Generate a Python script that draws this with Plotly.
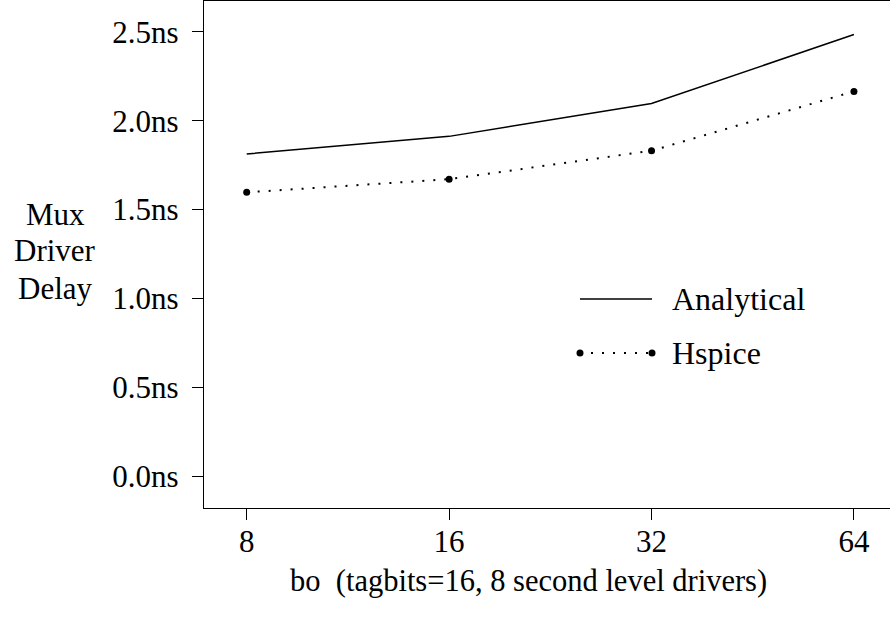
import plotly.graph_objects as go

# tag bits / second level drivers sweep
bo = [8, 16, 32, 64]
analytical = [1.813, 1.912, 2.097, 2.485]
hspice = [1.597, 1.671, 1.831, 2.165]

ytick_vals = [0.0, 0.5, 1.0, 1.5, 2.0, 2.5]
ytick_text = ["0.0ns", "0.5ns", "1.0ns", "1.5ns", "2.0ns", "2.5ns"]
xtick_text = ["8", "16", "32", "64"]
ytitle_lines = ["Mux", "Driver", "Delay"]

FONT = "Liberation Serif"
FS = 32
L, B, W, H = 204, 117, 890, 625
pw, ph = W - L, H - B - 1

fig = go.Figure()

fig.add_trace(go.Scatter(x=bo, y=analytical, mode="lines", name="Analytical",
                         line=dict(color="black", width=1.5)))
fig.add_trace(go.Scatter(x=bo, y=hspice, mode="lines+markers", name="Hspice",
                         line=dict(color="black", width=2, dash="2px,9px"),
                         marker=dict(color="black", size=7)))

# pixel -> paper helpers
def px(x):
    return (x - L) / pw

def py(y):
    return (H - B - y) / ph

# legend drawn by hand (line sample with end markers)
leg_x0, leg_x1 = px(580), px(652)
for yy, label, dotted in [(299, "Analytical", False), (353, "Hspice", True)]:
    fig.add_shape(type="line", xref="paper", yref="paper",
                  x0=leg_x0, x1=leg_x1, y0=py(yy), y1=py(yy),
                  line=dict(color="black", width=2 if dotted else 1.5,
                            dash="2px,9px" if dotted else "solid"))
    if dotted:
        for xx in (leg_x0, leg_x1):
            fig.add_shape(type="circle", xref="paper", yref="paper",
                          xsizemode="pixel", ysizemode="pixel",
                          xanchor=xx, yanchor=py(yy),
                          x0=-3.5, x1=3.5, y0=-3.5, y1=3.5,
                          fillcolor="black", line=dict(width=0))
    fig.add_annotation(text=label, xref="paper", yref="paper",
                       x=px(670), y=py(yy), xanchor="left", yanchor="middle",
                       showarrow=False, font=dict(size=FS, family=FONT, color="black"))

# y title, one line per annotation for tight spacing
for i, t in enumerate(ytitle_lines):
    fig.add_annotation(text=t, xref="paper", yref="paper",
                       x=px(55), y=py(214 + 37 * i), xanchor="center", yanchor="middle",
                       showarrow=False, font=dict(size=31, family=FONT, color="black"))

fig.add_annotation(text="bo\u00a0\u00a0(tagbits=16, 8 second level drivers)",
                   xref="paper", yref="paper", x=px(528), y=py(581),
                   xanchor="center", yanchor="middle", showarrow=False,
                   font=dict(size=30.5, family=FONT, color="black"))

fig.update_xaxes(type="log", range=[0.8396, 1.8598],
                 tickvals=bo, ticktext=xtick_text,
                 ticks="outside", ticklen=11, tickwidth=1.3, tickcolor="black",
                 showline=True, linecolor="black", linewidth=1.3, mirror=True,
                 showgrid=False, zeroline=False, ticklabelstandoff=-5,
                 tickfont=dict(size=31, family=FONT, color="black"))
fig.update_yaxes(range=[-0.18, 2.674], tickvals=ytick_vals, ticktext=ytick_text,
                 ticks="outside", ticklen=11, tickwidth=1.3, tickcolor="black",
                 showline=True, linecolor="black", linewidth=1.3,
                 showgrid=False, zeroline=False, ticklabelstandoff=7,
                 tickfont=dict(size=31, family=FONT, color="black"))

fig.update_layout(width=W, height=H, showlegend=False,
                  margin=dict(l=L, r=0, t=1, b=B),
                  plot_bgcolor="white", paper_bgcolor="white")

fig.write_html("out.html", config={"displayModeBar": False},
               post_script="document.body.style.margin='0';")
